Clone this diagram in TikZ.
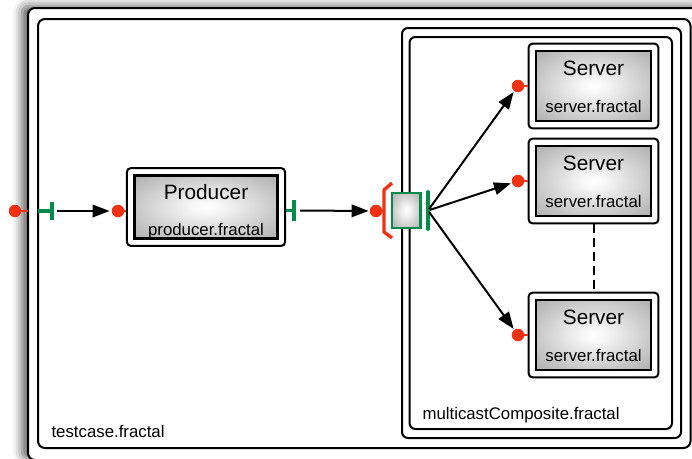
\documentclass[tikz,border=0pt]{standalone}
\usepackage{fontspec}
\setmainfont{Liberation Sans}
\usetikzlibrary{arrows.meta,fit,shadows.blur}

\definecolor{portred}{RGB}{240,50,18}
\definecolor{portgreen}{RGB}{0,140,72}

% light centre, grey rim
\pgfdeclareradialshading{compshade}{\pgfpoint{0bp}{0bp}}{%
  color(0bp)=(white); color(5bp)=(white!97!black); color(25bp)=(black!22);
  color(36bp)=(black!32); color(50bp)=(black!34)}

\tikzset{
  fractalframe/.style={draw, line width=2pt, rounded corners=7pt},
  body/.style={draw, line width=2.8pt, shading=compshade, inner sep=0pt},
  shell/.style={draw, line width=2pt, rounded corners=4pt, inner sep=6pt},
  client/.style={circle, fill=portred, inner sep=0pt, minimum size=12.5pt},
  stub/.style={draw=portred, line width=2.8pt},
  serv/.style={draw=portgreen, line width=3.8pt},
  wire/.style={draw, line width=2pt, -{Triangle[length=17pt,width=12.5pt,fill=black]}},
  comptitle/.style={font=\fontsize{20.8}{24}\selectfont, anchor=base},
  compfile/.style={font=\fontsize{16.8}{20}\selectfont, anchor=base},
}

\begin{document}
\begin{tikzpicture}[x=1pt, y=-1pt]
    \useasboundingbox (0,0) rectangle (692,458);
    \clip (0,0) rectangle (692,458);
    % testcase composite
    \path[fractalframe, fill=white, blur shadow={shadow xshift=-6pt, shadow yshift=2pt, shadow blur radius=9pt, shadow opacity=65}](28,8)rectangle(702,460);
    \path[fractalframe](38,19)rectangle(690.5,448);
    \node[compfile, anchor=base west] (tc-label) at (48,437) {testcase.fractal};
    % external ports
    \node[client] (tc-port) at (15,211) {};
    \path[stub](tc-port.center)to(28,211);
    \coordinate (tc-bar) at (52,211);
    \path[serv](38,211)to(tc-bar);
    \path[serv](52,202)to(52,220);
    % producer
    \node[body, minimum width=143.5pt, minimum height=63pt] (prod) at (206,207) {};
    \node[shell, fit=(prod)] (prod-shell) {};
    \node[comptitle] (prod-name) at (206,199) {Producer};
    \node[compfile] (prod-file) at (206,235) {producer.fractal};
    \node[client] (prod-port) at (118,211) {};
    \path[stub](prod-port.center)to(prod-port-|prod-shell.west);
    \coordinate (prod-bar) at (294,210.5);
    \path[serv](prod-bar-|prod-shell.east)to(prod-bar);
    \path[serv](294,200)to(294,221);
    % multicast composite
    \path[fractalframe, rounded corners=6pt](402,28)rectangle(681,438);
    \path[fractalframe, rounded corners=6pt](409.5,37)rectangle(672,429);
    \node[compfile, anchor=base west] (mc-label) at (419,419) {multicastComposite.fractal};
    \node[client] (mc-port) at (376,211) {};
    \path[stub](mc-port.center)to(384,211);
    \path[stub, line width=3.4pt, line join=round](392,183)--(384,190)--(384,232)--(392,238);
    \node[draw=portgreen, line width=2.2pt, shading=compshade, inner sep=0pt, minimum width=28.5pt, minimum height=35pt] (mc-itf) at (406.25,210.5) {};
    \coordinate (mc-bar) at (428,210.5);
    \path[serv, line cap=round](428,192)to(428,229);
    % servers
    \foreach \i/\y in {1/86, 2/181, 3/335}{
      \node[body, minimum width=115pt, minimum height=70pt] (srv\i) at (593.5,\y) {};
      \node[shell, fit=(srv\i)] (srv\i-shell) {};
      \node[comptitle] (srv\i-name) at (593.5,\y-10.5) {Server};
      \node[compfile] (srv\i-file) at (593.5,\y+26) {server.fractal};
      \node[client] (srv\i-port) at (518,\y) {};
      \path[stub](srv\i-port.center)to(srv\i-shell.west);
    }
    \path[draw, line width=2pt, dash pattern=on 9pt off 5pt](srv2-shell.south)to(srv3-shell.north);
    % bindings
    \path[wire, shorten <=5pt, shorten >=2pt](tc-bar)to(prod-port);
    \path[wire, shorten <=6pt, shorten >=1pt](prod-bar)to(mc-port);
    \foreach \i in {1,2,3}
      \path[wire, shorten <=2pt, shorten >=1pt](mc-bar)to(srv\i-port);
\end{tikzpicture}
\end{document}
